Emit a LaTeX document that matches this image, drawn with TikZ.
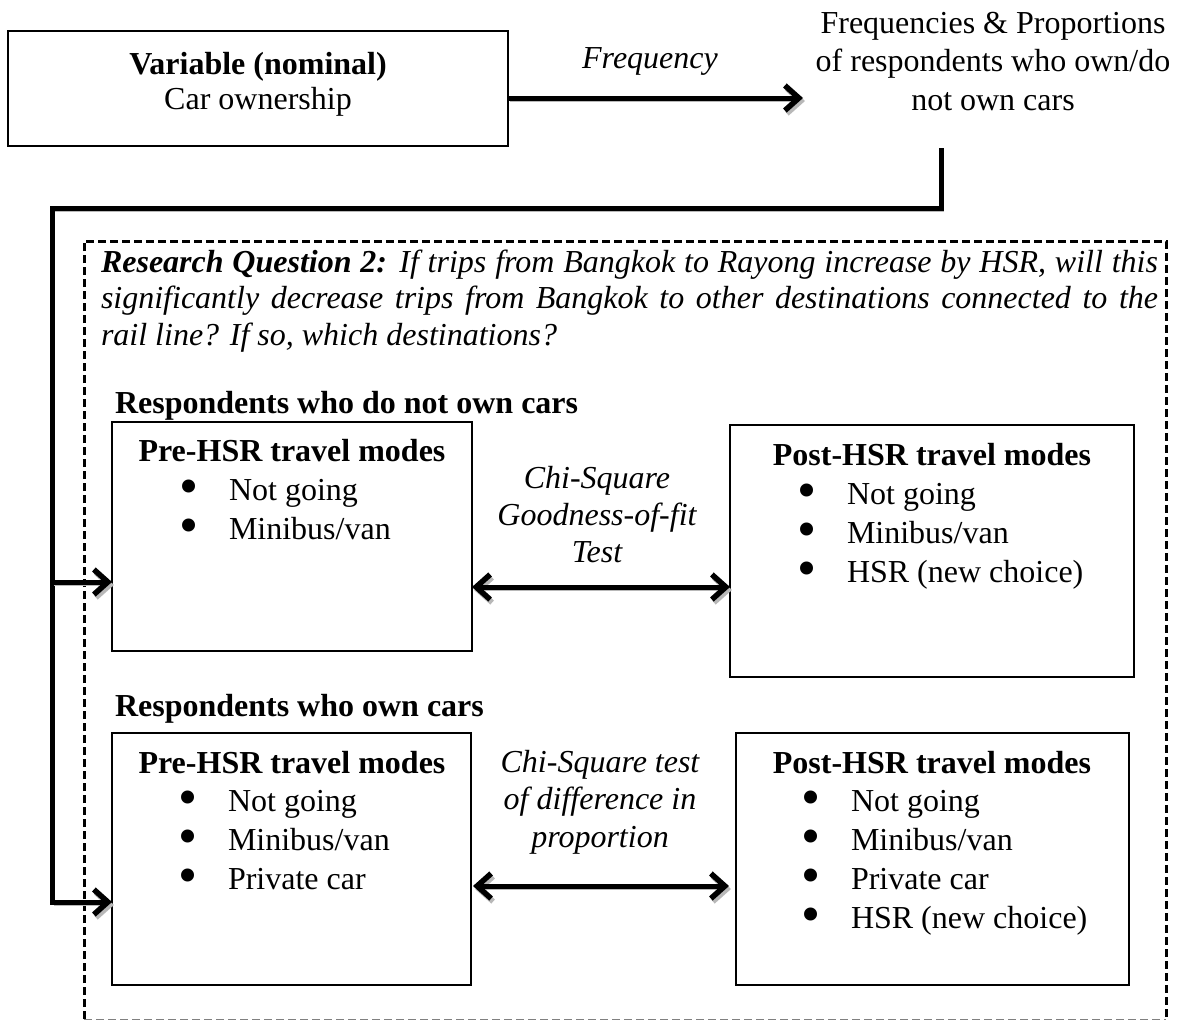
\documentclass[tikz,border=0pt]{standalone}
\usepackage{fontspec}
\setmainfont{Liberation Serif}
\usetikzlibrary{arrows.meta}
\newcommand{\myfs}{\fontsize{32}{39}\selectfont}
\newcommand{\mybul}{\smash{\raisebox{-4pt}{\scalebox{1.7}{\textbullet}}}}
\newcommand{\myitem}[1]{\makebox[50pt][l]{\mybul}#1}
\begin{document}
\begin{tikzpicture}[x=1pt,y=-1pt,
  every node/.style={inner sep=0pt,outer sep=0pt},
  txt/.style={font=\myfs, anchor=base},
  box/.style={draw, line width=1.3pt, anchor=north west, inner sep=0pt},
  shadowed/.style={preaction={draw=black!28, transform canvas={shift={(2pt,-3pt)}}}},
  conn/.style={line width=5pt, -{Straight Barb[length=14pt,width=25pt,line width=5.5pt]}, shadowed},
  biconn/.style={line width=5pt, {Straight Barb[length=14pt,width=25pt,line width=5.5pt]}-{Straight Barb[length=14pt,width=25pt,line width=5.5pt]}, shadowed},
  rqframe/.style={line width=3pt, dash pattern=on 8pt off 4pt},
]
\useasboundingbox (0,0) rectangle (1181,1021);

% top part
\node[box, minimum width=500pt, minimum height=115pt] (var) at (8,31) {};
\node[txt, font=\myfs\bfseries] (vart) at (258,74) {Variable (nominal)};
\node[txt] (varc) at (258,109) {Car ownership};
\node[txt, font=\myfs\itshape] (freqlbl) at (650,68) {Frequency};
\node[txt, font=\fontsize{32}{38.5}\selectfont] (res) at (993,33)
  {\begin{tabular}[t]{@{}c@{}}Frequencies \& Proportions\\ of respondents who own/do\\ not own cars\end{tabular}};
\coordinate (fe) at (803,98);

% dashed frame
\draw[rqframe] (84,1019) -- (84,241) -- (1166,241) -- (1166,1019);
\draw[gray, line width=1pt, dash pattern=on 8pt off 4pt] (84,1019) -- (1166,1019);

\node[anchor=base west, font=\fontsize{32}{36.5}\selectfont] (rq) at (101,272)
  {\parbox[t]{1057pt}{\textbf{\textit{Research Question 2:}} \textit{If trips from Bangkok to Rayong increase by HSR, will this\linebreak significantly decrease trips from Bangkok to other destinations connected to the\linebreak rail line? If so, which destinations?}}};

\node[txt, anchor=base west, font=\myfs\bfseries] (h1) at (115,413) {Respondents who do not own cars};
\node[txt, anchor=base west, font=\myfs\bfseries] (h2) at (115,716) {Respondents who own cars};

% boxes
\node[box, minimum width=360pt, minimum height=229pt] (b1) at (112,422) {};
\node[box, minimum width=404pt, minimum height=252pt] (b2) at (730,425) {};
\node[box, minimum width=359pt, minimum height=252pt] (b3) at (112,733) {};
\node[box, minimum width=393pt, minimum height=252pt] (b4) at (736,733) {};

\node[txt, font=\myfs\bfseries] (t1) at (292,461) {Pre-HSR travel modes};
\node[txt, font=\myfs\bfseries] (t2) at (932,465) {Post-HSR travel modes};
\node[txt, font=\myfs\bfseries] (t3) at (292,773) {Pre-HSR travel modes};
\node[txt, font=\myfs\bfseries] (t4) at (932,773) {Post-HSR travel modes};

\node[txt, anchor=base west] (l1) at (179,500)
  {\begin{tabular}[t]{@{}l@{}}\myitem{Not going}\\ \myitem{Minibus/van}\end{tabular}};
\node[txt, anchor=base west] (l2) at (797,504)
  {\begin{tabular}[t]{@{}l@{}}\myitem{Not going}\\ \myitem{Minibus/van}\\ \myitem{HSR (new choice)}\end{tabular}};
\node[txt, anchor=base west] (l3) at (178,811)
  {\begin{tabular}[t]{@{}l@{}}\myitem{Not going}\\ \myitem{Minibus/van}\\ \myitem{Private car}\end{tabular}};
\node[txt, anchor=base west] (l4) at (801,811)
  {\begin{tabular}[t]{@{}l@{}}\myitem{Not going}\\ \myitem{Minibus/van}\\ \myitem{Private car}\\ \myitem{HSR (new choice)}\end{tabular}};

\node[txt, font=\fontsize{32}{37}\selectfont\itshape] (chi1) at (597,488)
  {\begin{tabular}[t]{@{}c@{}}Chi-Square\\ Goodness-of-fit\\ Test\end{tabular}};
\node[txt, font=\fontsize{32}{37.5}\selectfont\itshape] (chi2) at (600,772)
  {\begin{tabular}[t]{@{}c@{}}Chi-Square test\\ of difference in\\ proportion\end{tabular}};

% connectors
\draw[conn] (var.east |- fe) -- (fe);
\coordinate (c1) at (941,148);
\coordinate (j1) at (52,208);
\coordinate (j2) at (52,582);
\coordinate (a3) at (52,902);
\draw[conn] (c1) |- (j1) |- (a3 -| b3.west);
\draw[conn] (j2) -- (j2 -| b1.west);
\coordinate (m1) at (600,587);
\coordinate (m2) at (600,886);
\draw[biconn] (m1 -| b1.east) -- (m1 -| b2.west);
\draw[biconn, shorten <=2pt, shorten >=7pt] (m2 -| b3.east) -- (m2 -| b4.west);
\end{tikzpicture}
\end{document}
